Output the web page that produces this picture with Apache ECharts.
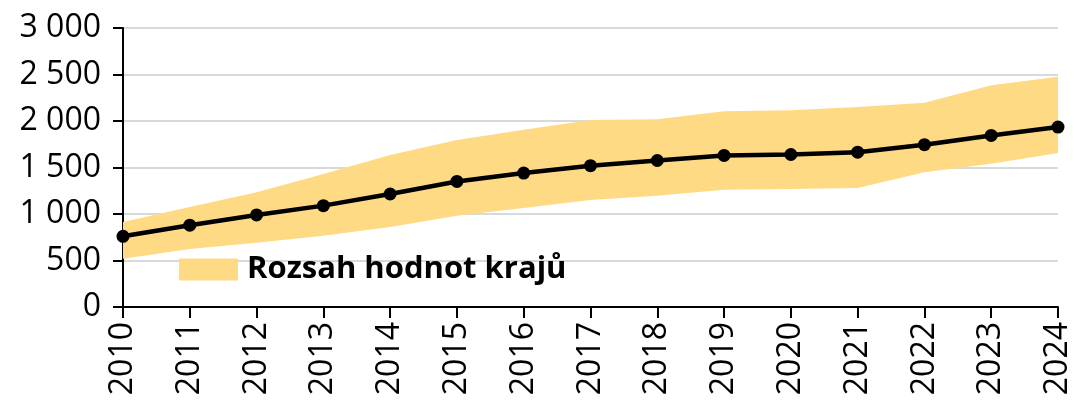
<!DOCTYPE html>
<html>
<head>
<meta charset="utf-8">
<script src="https://cdn.jsdelivr.net/npm/echarts@6/dist/echarts.min.js"></script>
<style>
  html, body { margin: 0; padding: 0; background: #fff; }
  #main { width: 1074px; height: 407px; }
</style>
</head>
<body>
<div id="main"></div>
<script>
// roky
var years = ["2010", "2011", "2012", "2013", "2014", "2015", "2016", "2017",
  "2018", "2019", "2020", "2021", "2022", "2023", "2024"];
// ČR celkem
var total = [760, 880, 990, 1090, 1215, 1350, 1440, 1520, 1575, 1630, 1640, 1665, 1745, 1845, 1935];
// rozsah hodnot krajů - minimum a maximum
var krajMin = [520, 625, 690, 765, 860, 980, 1065, 1150, 1195, 1260, 1270, 1280, 1450, 1540, 1655];
var krajMax = [915, 1075, 1235, 1430, 1635, 1795, 1905, 2010, 2020, 2105, 2115, 2150, 2195, 2385, 2475];
var yTicks = [0, 500, 1000, 1500, 2000, 2500, 3000];

var bandColor = "#FFDA85";
var font = "Open Sans";

var chart = echarts.init(document.getElementById("main"));

// šířka pásu = max - min (stack na minimum)
var bandWidth = krajMax.map(function (v, i) { return v - krajMin[i]; });

var option = {
  animation: false,
  grid: { left: 123, right: 13, top: 28, bottom: 100 },
  legend: {
    left: 179,
    top: 254,
    padding: 0,
    icon: "rect",
    itemWidth: 59,
    itemHeight: 22,
    data: ["Rozsah hodnot krajů"],
    textStyle: {
      fontFamily: font,
      fontWeight: "bold",
      fontSize: 31,
      color: "#000",
      padding: [0, 0, 0, 4]
    }
  },
  xAxis: {
    type: "category",
    boundaryGap: false,
    data: years,
    axisLine: { lineStyle: { color: "#000", width: 2 } },
    axisTick: { length: 11, lineStyle: { color: "#000", width: 2 } },
    axisLabel: {
      rotate: 90,
      margin: 15,
      color: "#000",
      fontFamily: font,
      fontSize: 32
    }
  },
  yAxis: {
    type: "value",
    min: yTicks[0],
    max: yTicks[yTicks.length - 1],
    interval: 500,
    axisLine: { show: true, lineStyle: { color: "#000", width: 2 } },
    axisTick: { show: true, length: 10, lineStyle: { color: "#000", width: 2 } },
    splitLine: { lineStyle: { color: "#D9D9D9", width: 2 } },
    axisLabel: {
      margin: 22,
      color: "#000",
      fontFamily: font,
      fontSize: 32,
      formatter: function (v) {
        return String(v).replace(/\B(?=(\d{3})+(?!\d))/g, " ");
      }
    }
  },
  series: [
    {
      name: "min",
      type: "line",
      stack: "band",
      data: krajMin,
      symbol: "none",
      lineStyle: { opacity: 0 },
      silent: true
    },
    {
      name: "Rozsah hodnot krajů",
      type: "line",
      stack: "band",
      data: bandWidth,
      symbol: "none",
      itemStyle: { color: bandColor },
      lineStyle: { opacity: 0 },
      areaStyle: { color: bandColor, opacity: 1 },
      silent: true
    },
    {
      name: "ČR",
      type: "line",
      data: total,
      symbol: "circle",
      symbolSize: 13,
      itemStyle: { color: "#000" },
      lineStyle: { color: "#000", width: 4.5 },
      z: 5
    }
  ]
};

chart.setOption(option);
</script>
</body>
</html>
